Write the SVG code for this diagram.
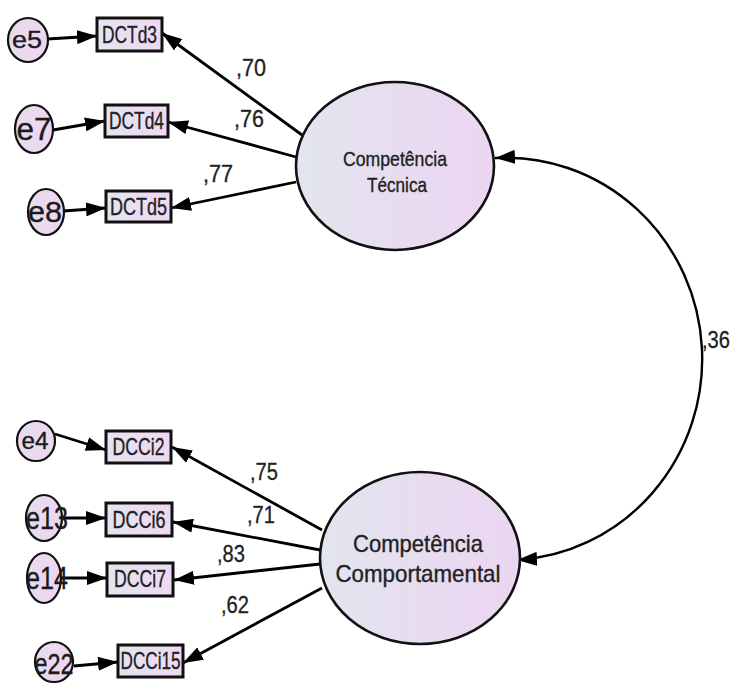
<svg xmlns="http://www.w3.org/2000/svg" width="733" height="684" viewBox="0 0 733 684">
  <defs>
    <linearGradient id="fillLatent" x1="0" y1="0" x2="1" y2="0">
      <stop offset="0" stop-color="#e2e5ee"/>
      <stop offset="1" stop-color="#ecd5f1"/>
    </linearGradient>
    <linearGradient id="fillBox" x1="0" y1="0" x2="1" y2="0">
      <stop offset="0" stop-color="#e4e4f0"/>
      <stop offset="1" stop-color="#efd8f2"/>
    </linearGradient>
    <linearGradient id="fillErr" x1="0" y1="0" x2="1" y2="0">
      <stop offset="0" stop-color="#e6dcee"/>
      <stop offset="1" stop-color="#efd6f0"/>
    </linearGradient>
    <marker id="head" viewBox="0 0 20 14" refX="20" refY="7" markerUnits="userSpaceOnUse" markerWidth="20" markerHeight="14" orient="auto-start-reverse">
      <path d="M0,0 L20,7 L0,14 z" fill="#000"/>
    </marker>
  </defs>
  <style>
    .latent { fill: url(#fillLatent); stroke: #111; stroke-width: 2.6; }
    .box { fill: url(#fillBox); stroke: #111; stroke-width: 3; }
    .err { fill: url(#fillErr); stroke: #111; stroke-width: 2.2; }
    .lbl { font-family: "Liberation Sans", Arial, sans-serif; fill: #222; stroke: #222; stroke-width: 0.35; text-anchor: middle; }
    .obs { font-size: 24px; }
    .en { fill: #1a1a1a; }
    .coef { font-family: "Liberation Sans", Arial, sans-serif; font-size: 23px; fill: #222; stroke: #222; stroke-width: 0.3; }
    .link { stroke: #000; stroke-width: 2.8; fill: none; marker-end: url(#head); }
    .cov { stroke: #000; stroke-width: 2.4; fill: none; marker-start: url(#head); marker-end: url(#head); }
  </style>

  <!-- connectors -->
  <g id="connectors">
    <!-- error terms to indicators -->
    <line class="link" x1="47" y1="39" x2="97" y2="36"/>
    <line class="link" x1="53" y1="130" x2="105" y2="121"/>
    <line class="link" x1="63" y1="211" x2="106" y2="208"/>
    <line class="link" x1="55" y1="434" x2="106" y2="450"/>
    <line class="link" x1="62" y1="518" x2="106" y2="518"/>
    <line class="link" x1="61" y1="578" x2="107" y2="578"/>
    <line class="link" x1="74" y1="666" x2="118" y2="662"/>
    <!-- loadings: Competência Técnica -->
    <line class="link" x1="302" y1="135" x2="162" y2="33"/>
    <line class="link" x1="296" y1="157" x2="168" y2="122"/>
    <line class="link" x1="296" y1="182" x2="171" y2="208"/>
    <!-- loadings: Competência Comportamental -->
    <line class="link" x1="322" y1="530" x2="172" y2="447"/>
    <line class="link" x1="320" y1="550" x2="173" y2="522"/>
    <line class="link" x1="320" y1="564" x2="174" y2="580"/>
    <line class="link" x1="322" y1="588" x2="183" y2="663"/>
    <!-- covariance -->
    <path class="cov" d="M495,158 A196 201 0 0 1 517,560"/>
    <!-- coefficients -->
    <text class="coef" x="236" y="76" textLength="30" lengthAdjust="spacingAndGlyphs">,70</text>
    <text class="coef" x="234" y="127" textLength="30" lengthAdjust="spacingAndGlyphs">,76</text>
    <text class="coef" x="203" y="182" textLength="30" lengthAdjust="spacingAndGlyphs">,77</text>
    <text class="coef" x="250" y="480" textLength="28" lengthAdjust="spacingAndGlyphs">,75</text>
    <text class="coef" x="247" y="523" textLength="28" lengthAdjust="spacingAndGlyphs">,71</text>
    <text class="coef" x="217" y="562" textLength="28" lengthAdjust="spacingAndGlyphs">,83</text>
    <text class="coef" x="221" y="613" textLength="28" lengthAdjust="spacingAndGlyphs">,62</text>
    <text class="coef" x="702" y="348" textLength="28" lengthAdjust="spacingAndGlyphs">,36</text>
  </g>

  <!-- latent factors -->
  <g id="tecnica">
    <ellipse class="latent" cx="395" cy="166" rx="99" ry="84"/>
    <text class="lbl" x="395" y="166" font-size="21" textLength="104" lengthAdjust="spacingAndGlyphs">Competência</text>
    <text class="lbl" x="397" y="192" font-size="21" textLength="60" lengthAdjust="spacingAndGlyphs">Técnica</text>
  </g>
  <g id="comportamental">
    <ellipse class="latent" cx="420" cy="558" rx="100" ry="86"/>
    <text class="lbl" x="418" y="552" font-size="24" textLength="130" lengthAdjust="spacingAndGlyphs">Competência</text>
    <text class="lbl" x="418" y="582" font-size="24" textLength="165" lengthAdjust="spacingAndGlyphs">Comportamental</text>
  </g>

  <!-- observed indicators -->
  <g id="DCTd3">
    <rect class="box" x="97" y="18" width="65" height="33"/>
    <text class="lbl obs" x="129.5" y="43" textLength="55" lengthAdjust="spacingAndGlyphs">DCTd3</text>
  </g>
  <g id="DCTd4">
    <rect class="box" x="105" y="105" width="63" height="32"/>
    <text class="lbl obs" x="136.5" y="129" textLength="55" lengthAdjust="spacingAndGlyphs">DCTd4</text>
  </g>
  <g id="DCTd5">
    <rect class="box" x="106" y="191" width="65" height="31"/>
    <text class="lbl obs" x="138.5" y="215" textLength="57" lengthAdjust="spacingAndGlyphs">DCTd5</text>
  </g>
  <g id="DCCi2">
    <rect class="box" x="106" y="431" width="65" height="32"/>
    <text class="lbl obs" x="138.5" y="455" textLength="52" lengthAdjust="spacingAndGlyphs">DCCi2</text>
  </g>
  <g id="DCCi6">
    <rect class="box" x="106" y="503" width="66" height="33"/>
    <text class="lbl obs" x="139" y="528" textLength="53" lengthAdjust="spacingAndGlyphs">DCCi6</text>
  </g>
  <g id="DCCi7">
    <rect class="box" x="107" y="563" width="66" height="33"/>
    <text class="lbl obs" x="140" y="587" font-size="20" textLength="52" lengthAdjust="spacingAndGlyphs">DCCi7</text>
  </g>
  <g id="DCCi15">
    <rect class="box" x="118" y="645" width="65" height="32"/>
    <text class="lbl obs" x="150.5" y="669" textLength="60" lengthAdjust="spacingAndGlyphs">DCCi15</text>
  </g>

  <!-- error terms -->
  <g id="e5">
    <ellipse class="err" cx="28" cy="40" rx="20" ry="22"/>
    <text class="lbl en" x="27" y="48" font-size="24" textLength="30" lengthAdjust="spacingAndGlyphs">e5</text>
  </g>
  <g id="e7">
    <ellipse class="err" cx="34" cy="129" rx="19" ry="24"/>
    <text class="lbl en" x="34" y="140" font-size="31" textLength="35" lengthAdjust="spacingAndGlyphs">e7</text>
  </g>
  <g id="e8">
    <ellipse class="err" cx="46" cy="212" rx="18" ry="23"/>
    <text class="lbl en" x="45" y="222" font-size="29" textLength="34" lengthAdjust="spacingAndGlyphs">e8</text>
  </g>
  <g id="e4">
    <ellipse class="err" cx="36" cy="441" rx="19" ry="20"/>
    <text class="lbl en" x="35" y="449" font-size="23" textLength="27" lengthAdjust="spacingAndGlyphs">e4</text>
  </g>
  <g id="e13">
    <ellipse class="err" cx="44" cy="518" rx="18" ry="23"/>
    <text class="lbl en" x="47" y="529" font-size="31" textLength="42" lengthAdjust="spacingAndGlyphs">e13</text>
  </g>
  <g id="e14">
    <ellipse class="err" cx="44" cy="578" rx="17" ry="25"/>
    <text class="lbl en" x="47" y="589" font-size="31" textLength="42" lengthAdjust="spacingAndGlyphs">e14</text>
  </g>
  <g id="e22">
    <ellipse class="err" cx="54" cy="662" rx="19" ry="20"/>
    <text class="lbl en" x="54" y="674" font-size="30" textLength="39" lengthAdjust="spacingAndGlyphs">e22</text>
  </g>
</svg>
